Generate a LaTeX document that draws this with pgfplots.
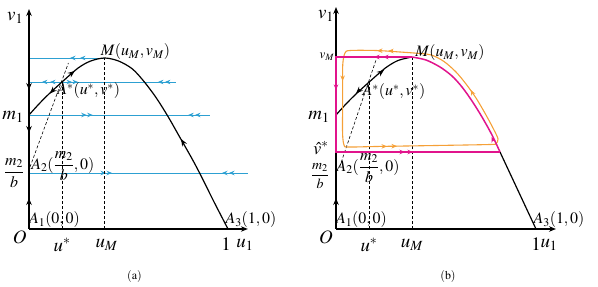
\documentclass[border=0pt]{standalone}
\usepackage{mathptmx}
\usepackage{pgfplots}
\pgfplotsset{compat=1.18}
\usetikzlibrary{arrows.meta}
\definecolor{bl}{RGB}{45,160,210}
\definecolor{pk}{RGB}{225,20,140}
\definecolor{og}{RGB}{245,160,55}
\tikzset{
  tipS/.style={-{Stealth[length=5.5pt,width=4.5pt]}},
  tipB/.style={-{Stealth[length=7pt,width=5.5pt]}},
  lab/.style={font=\fontsize{19}{21}\selectfont, inner sep=0pt},
  slab/.style={font=\fontsize{16}{18}\selectfont, inner sep=0pt},
  dsh/.style={black, line width=0.6pt, dash pattern=on 3pt off 2pt},
}
\pgfplotsset{panel/.style={scale only axis, width=299bp, height=287bp, ymin=-58, ymax=229,
  axis lines=none, clip=false, anchor=south west}}
\begin{document}
\begin{tikzpicture}
%================ (a) =================
\begin{axis}[panel, at={(0,0)}, xmin=-0.1457, xmax=1.3568]
\addplot[draw=none] coordinates {(-0.1457,-58)(1.3568,229)};
% blue lines
\addplot[bl,line width=0.8pt] coordinates {(0,171)(0.38,171)};
\addplot[bl,line width=0.8pt] coordinates {(0,147)(0.74,147)};
\addplot[bl,line width=0.8pt] coordinates {(0,114)(0.91,114)};
\addplot[bl,line width=0.8pt] coordinates {(0,56)(1.10,56)};
% blue arrow heads
\addplot[bl,line width=0.8pt,tipS] coordinates {(0.23,171)(0.206,171)};
\addplot[bl,line width=0.8pt,tipS] coordinates {(0.28,171)(0.256,171)};
\addplot[bl,line width=0.8pt,tipS] coordinates {(0.09,147)(0.065,147)};
\addplot[bl,line width=0.8pt,tipS] coordinates {(0.13,147)(0.106,147)};
\addplot[bl,line width=0.8pt,tipS] coordinates {(0.19,147)(0.216,147)};
\addplot[bl,line width=0.8pt,tipS] coordinates {(0.22,147)(0.246,147)};
\addplot[bl,line width=0.8pt,tipS] coordinates {(0.672,147)(0.648,147)};
\addplot[bl,line width=0.8pt,tipS] coordinates {(0.707,147)(0.683,147)};
\addplot[bl,line width=0.8pt,tipS] coordinates {(0.266,114)(0.29,114)};
\addplot[bl,line width=0.8pt,tipS] coordinates {(0.296,114)(0.32,114)};
\addplot[bl,line width=0.8pt,tipS] coordinates {(0.824,114)(0.80,114)};
\addplot[bl,line width=0.8pt,tipS] coordinates {(0.858,114)(0.834,114)};
\addplot[bl,line width=0.8pt,tipS] coordinates {(0.363,56)(0.387,56)};
\addplot[bl,line width=0.8pt,tipS] coordinates {(0.393,56)(0.417,56)};
\addplot[bl,line width=0.8pt,tipS] coordinates {(0.994,56)(0.97,56)};
\addplot[bl,line width=0.8pt,tipS] coordinates {(1.029,56)(1.005,56)};
% dashed
\addplot[dsh] coordinates {(0.166,0)(0.166,147)};
\addplot[dsh] coordinates {(0.38,0)(0.38,171)};
\addplot[dsh] coordinates {(0.005,62)(0.198,166)};
% curve
\addplot[black,line width=1.2pt,smooth] coordinates {(0,114)(0.05,125)(0.10,135)(0.166,147)(0.247,161)(0.31,168)(0.38,171)(0.45,168)(0.52,160)(0.58,147)(0.64,131)(0.70,112)(0.76,91)(0.82,70)(0.865,53)(0.93,27)(1,0)};
\addplot[black,line width=1.2pt,tipB] coordinates {(0.125,139.5)(0.105,135.5)};
\addplot[black,line width=1.2pt,tipB] coordinates {(0.21,155)(0.23,158)};
\addplot[black,line width=1.2pt,tipB] coordinates {(0.776,86)(0.764,90)};
% axes
\addplot[black,line width=1.6pt,tipB] coordinates {(0,0)(0,220)};
\addplot[black,line width=1.6pt,tipB] coordinates {(0,0)(1.10,0)};
\addplot[black,line width=1.2pt,tipB] coordinates {(0,145)(0,139)};
\addplot[black,line width=1.2pt,tipB] coordinates {(0,102)(0,96)};
\addplot[black,line width=1.2pt,tipB] coordinates {(0,25)(0,31)};
% labels
\node[lab] at (axis cs:-0.07,211) {$v_1$};
\node[slab] at (axis cs:0.535,177) {$M(u_M,v_M)$};
\node[slab] at (axis cs:0.30,138) {$A^*(u^*,v^*)$};
\node[lab] at (axis cs:-0.08,112) {$m_1$};
\node[slab] at (axis cs:-0.075,56) {$\displaystyle\frac{m_2}{b}$};
\node[slab] at (axis cs:0.17,63) {$A_2(\displaystyle\frac{m_2}{b},0)$};
\node[slab] at (axis cs:0.128,9) {$A_1(0,0)$};
\node[slab] at (axis cs:1.115,9) {$A_3(1,0)$};
\node[lab] at (axis cs:-0.047,-8) {$O$};
\node[lab] at (axis cs:0.166,-16) {$u^*$};
\node[lab] at (axis cs:0.39,-16) {$u_M$};
\node[lab] at (axis cs:0.99,-15) {$1$};
\node[lab] at (axis cs:1.085,-16) {$u_1$};
\node[font=\fontsize{12}{14}\selectfont,inner sep=0pt] at (axis cs:0.53,-48) {$(\mathrm{a})$};
\end{axis}
%================ (b) =================
\begin{axis}[panel, at={(299bp,0)}, xmin=-0.185, xmax=1.31]
\addplot[draw=none] coordinates {(-0.185,-58)(1.31,229)};
% dashed
\addplot[dsh] coordinates {(0.165,0)(0.165,147)};
\addplot[dsh] coordinates {(0.38,0)(0.38,172)};
\addplot[dsh] coordinates {(0.018,62)(0.20,169)};
% axes
\addplot[black,line width=1.6pt,tipB] coordinates {(0,0)(0,222)};
\addplot[black,line width=1.6pt,tipB] coordinates {(0,0)(1.10,0)};
\addplot[black,line width=1.2pt,tipB] coordinates {(0,25)(0,31)};
% black curve parts
\addplot[black,line width=1.2pt,smooth] coordinates {(0,114)(0.05,125)(0.10,135)(0.166,147)(0.247,161)(0.31,168.5)(0.38,172)};
\addplot[black,line width=1.2pt] coordinates {(0.82,77)(1,0)};
\addplot[black,line width=1.2pt,tipB] coordinates {(0.12,139.5)(0.10,135.5)};
\addplot[black,line width=1.2pt,tipB] coordinates {(0.22,156)(0.24,159)};
% orange loop
\addplot[og,line width=1.1pt,smooth] coordinates {(0.033,120)(0.033,140)(0.034,165)(0.045,176)(0.07,178.5)(0.2,178.5)(0.32,177)(0.42,175.5)(0.477,174)(0.54,167.5)(0.60,157)(0.65,145)(0.70,131)(0.75,114)(0.79,99)(0.81,90)(0.80,85.5)(0.77,84.5)(0.5,83.5)(0.2,82.5)(0.06,82)(0.04,84)(0.033,95)(0.033,120)};
\addplot[og,line width=1.1pt,tipS] coordinates {(0.229,178.3)(0.205,178.3)};
\addplot[og,line width=1.1pt,tipS] coordinates {(0.284,178)(0.26,178)};
\addplot[og,line width=1.1pt,tipS] coordinates {(0.033,155)(0.033,148)};
\addplot[og,line width=1.1pt,tipS] coordinates {(0.231,82.6)(0.255,82.6)};
\addplot[og,line width=1.1pt,tipS] coordinates {(0.281,82.8)(0.305,82.8)};
\addplot[og,line width=1.1pt,tipS] coordinates {(0.682,136)(0.674,139)};
% pink
\addplot[pk,line width=1.5pt] coordinates {(0.38,172)(0,172)(0,77)(0.82,77)};
\addplot[pk,line width=1.5pt,smooth] coordinates {(0.38,172)(0.45,169)(0.52,162)(0.58,153)(0.63,142)(0.68,128)(0.73,112)(0.78,94)(0.82,77)};
\addplot[pk,line width=1.5pt,tipS] coordinates {(0.214,172)(0.19,172)};
\addplot[pk,line width=1.5pt,tipS] coordinates {(0.259,172)(0.235,172)};
\addplot[pk,line width=1.5pt,tipS] coordinates {(0,146)(0,139)};
\addplot[pk,line width=1.5pt,tipS] coordinates {(0.321,77)(0.345,77)};
\addplot[pk,line width=1.5pt,tipS] coordinates {(0.361,77)(0.385,77)};
\addplot[pk,line width=1.5pt,tipS] coordinates {(0.786,88)(0.778,92)};
% labels
\node[lab] at (axis cs:-0.05,213) {$v_1$};
\node[font=\fontsize{13}{15}\selectfont,inner sep=0pt] at (axis cs:-0.045,172) {$v_M$};
\node[slab] at (axis cs:0.57,176) {$M(u_M,v_M)$};
\node[slab] at (axis cs:0.29,137) {$A^*(u^*,v^*)$};
\node[lab] at (axis cs:-0.085,112) {$m_1$};
\node[font=\fontsize{18}{20}\selectfont,inner sep=0pt,anchor=south] at (axis cs:-0.075,74) {$\hat{v}^*$};
\node[font=\fontsize{14}{16}\selectfont,inner sep=0pt,anchor=north] at (axis cs:-0.08,66) {$\displaystyle\frac{m_2}{b}$};
\node[slab] at (axis cs:0.16,61) {$A_2(\displaystyle\frac{m_2}{b},0)$};
\node[slab] at (axis cs:0.127,9) {$A_1(0,0)$};
\node[slab] at (axis cs:1.115,9) {$A_3(1,0)$};
\node[lab] at (axis cs:-0.05,-8) {$O$};
\node[lab] at (axis cs:0.165,-16) {$u^*$};
\node[lab] at (axis cs:0.38,-16) {$u_M$};
\node[lab] at (axis cs:1.0,-15) {$1$};
\node[lab] at (axis cs:1.065,-16) {$u_1$};
\node[font=\fontsize{12}{14}\selectfont,inner sep=0pt] at (axis cs:0.56,-48) {$(\mathrm{b})$};
\end{axis}
\end{tikzpicture}
\end{document}
